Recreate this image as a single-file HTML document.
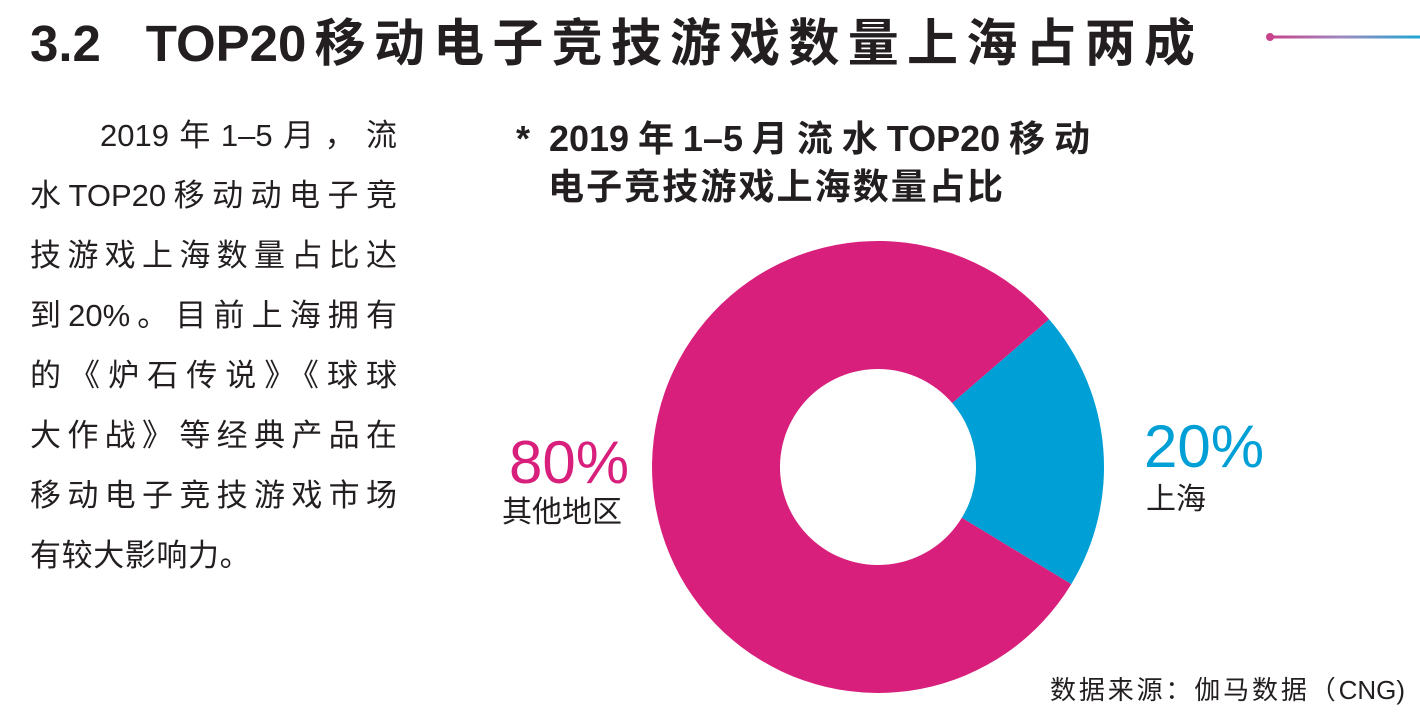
<!DOCTYPE html>
<html><head><meta charset="utf-8"><style>
body{margin:0;width:1420px;height:716px;background:#fff;overflow:hidden;position:relative;font-family:"Liberation Sans","Noto Sans CJK SC",sans-serif;color:#231f20}
.a{position:absolute;white-space:nowrap}
.j{text-align:justify;text-align-last:justify;white-space:normal;overflow:visible}
.t{left:30px;top:2px;width:1165px;font-size:51px;font-weight:bold}
.l{left:30px;width:367px;font-size:31px;line-height:60px}
.h{font-size:36px;font-weight:bold}
</style></head><body>
<div class="a t j">3.2&nbsp; TOP20移动电子竞技游戏数量上海占两成</div>
<svg class="a" style="left:0;top:0" width="1420" height="716">
<defs><linearGradient id="g" x1="0" x2="1"><stop offset="0" stop-color="#c9428c"/><stop offset="0.5" stop-color="#9a8cc0"/><stop offset="1" stop-color="#1ea6d3"/></linearGradient></defs>
<rect x="1270" y="35.5" width="150" height="3" fill="url(#g)"/>
<circle cx="1270" cy="37" r="4" fill="#c9428c"/>
<path d="M1049.1,319.3 A226 226 0 0 1 1071.3,584.1 L961.8,517.8 A98 98 0 0 0 952.2,403.0 Z" fill="#00a0d6"/>
<path d="M1071.3,584.1 A226 226 0 1 1 1049.1,319.3 L952.2,403 A98 98 0 1 0 961.8,517.8 Z" fill="#d81f7b"/>
</svg>
<div class="a l j" style="top:106px;left:100px;width:297px">2019年1–5月，流</div>
<div class="a l j" style="top:166px">水TOP20移动动电子竞</div>
<div class="a l j" style="top:226px">技游戏上海数量占比达</div>
<div class="a l j" style="top:286px">到20%。目前上海拥有</div>
<div class="a l j" style="top:346px">的《炉石传说》《球球</div>
<div class="a l j" style="top:406px">大作战》等经典产品在</div>
<div class="a l j" style="top:466px">移动电子竞技游戏市场</div>
<div class="a l" style="top:526px;letter-spacing:0.6px">有较大影响力。</div>
<div class="a h j" style="left:516px;top:110px;width:574px">* 2019年1–5月流水TOP20移动</div>
<div class="a h j" style="left:548px;top:158px;width:455px">电子竞技游戏上海数量占比</div>
<div class="a" style="left:509px;top:428px;font-size:60px;color:#d81f7b">80%</div>
<div class="a" style="left:502px;top:487px;font-size:30px">其他地区</div>
<div class="a" style="left:1144px;top:412px;font-size:60px;color:#00a0d6">20%</div>
<div class="a" style="left:1146px;top:474px;font-size:30px">上海</div>
<div class="a j" style="left:1050px;top:670px;width:355px;font-size:26px">数据来源：伽马数据（CNG)</div>
</body></html>
